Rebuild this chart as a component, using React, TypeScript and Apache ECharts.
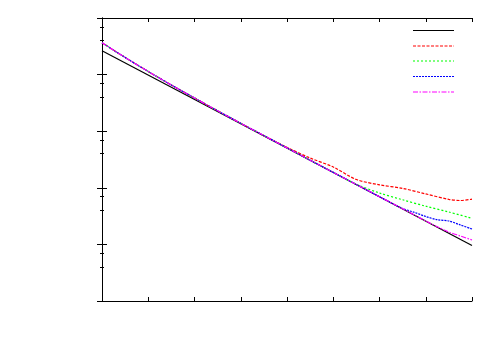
import React, { useEffect, useRef } from "react";
import * as echarts from "echarts";

// x positions (linear axis, 0..8) and y values (log axis, 1e-5..1)
const xBlack = [0, 8];
const yBlack = [0.2644, 9.564e-5];

const xRed = [0, 0.5, 1, 1.5, 2, 2.5, 3, 3.5, 4, 4.5, 5, 5.5, 6, 6.5, 7, 7.5, 7.75, 8];
const yRed = [0.3662, 0.2004, 0.1134, 0.06551, 0.0386, 0.02293, 0.01379, 0.008363, 5.194e-3, 3.361e-3, 2.331e-3, 1.401e-3, 1.13e-3, 9.759e-4, 7.803e-4, 6.24e-4, 5.966e-4, 6.29e-4];

const xGreen = [0, 0.5, 1, 1.5, 2, 2.5, 3, 3.5, 4, 4.5, 5, 5.5, 6, 6.5, 7, 7.5, 8];
const yGreen = [0.3662, 0.2004, 0.1134, 0.06551, 0.0386, 0.02293, 0.01379, 0.008363, 0.005069, 0.003073, 0.001871, 1.153e-3, 8.094e-4, 6.138e-4, 4.73e-4, 3.736e-4, 2.892e-4];

const xBlue = [0, 0.5, 1, 1.5, 2, 2.5, 3, 3.5, 4, 4.5, 5, 5.5, 6, 6.5, 6.75, 7, 7.25, 7.5, 7.75, 8];
const yBlue = [0.3662, 0.2004, 0.1134, 0.06551, 0.0386, 0.02293, 0.01379, 0.008363, 0.005069, 0.003073, 0.001871, 0.001144, 6.965e-4, 4.308e-4, 3.691e-4, 3.111e-4, 2.732e-4, 2.591e-4, 2.202e-4, 1.871e-4];

const xMagenta = [0, 0.5, 1, 1.5, 2, 2.5, 3, 3.5, 4, 4.5, 5, 5.5, 6, 6.5, 7, 7.25, 7.5, 7.75, 8];
const yMagenta = [0.3662, 0.2004, 0.1134, 0.06551, 0.0386, 0.02293, 0.01379, 0.008363, 0.005069, 0.003073, 0.001871, 0.001144, 6.965e-4, 4.256e-4, 2.591e-4, 2.047e-4, 1.656e-4, 1.407e-4, 1.196e-4];

const zip = (xs: number[], ys: number[]) => xs.map((x, i) => [x, ys[i]]);

const seriesDefs = [
  { xs: xBlack, ys: yBlack, color: "#000000", dash: "solid" as any, smooth: false },
  { xs: xRed, ys: yRed, color: "#ff0000", dash: [3, 1.5], smooth: 0.3 },
  { xs: xGreen, ys: yGreen, color: "#00ff00", dash: [2, 2], smooth: 0.3 },
  { xs: xBlue, ys: yBlue, color: "#0000ff", dash: [2, 1], smooth: 0.3 },
  { xs: xMagenta, ys: yMagenta, color: "#ff00ff", dash: [5, 1.5, 1.5, 1.5], smooth: 0.3 },
];

const legendYs = [30.5, 46, 61, 76.5, 92];

export default function App() {
  const ref = useRef<HTMLDivElement>(null);
  useEffect(() => {
    if (!ref.current) return;
    const chart = echarts.init(ref.current, undefined, { renderer: "svg" });
    const xAxisBase = {
      type: "value",
      min: 0,
      max: 8,
      interval: 1,
      axisLine: { show: true, lineStyle: { color: "#000", width: 1 } },
      axisTick: { show: true, inside: true, length: 4, lineStyle: { color: "#000" } },
      axisLabel: { show: false },
      splitLine: { show: false },
    };
    const yAxisBase = {
      type: "log",
      logBase: 10,
      min: 1e-5,
      max: 1,
      axisLine: { show: true, lineStyle: { color: "#000", width: 1 } },
      axisTick: { show: true, inside: true, length: 5, lineStyle: { color: "#000" } },
      minorTick: { show: true, splitNumber: 3, length: 2, lineStyle: { color: "#000" } },
      axisLabel: { show: false },
      splitLine: { show: false },
      minorSplitLine: { show: false },
    };
    chart.setOption({
      animation: false,
      backgroundColor: "#ffffff",
      grid: { left: 102, right: 28, top: 18, bottom: 49, containLabel: false },
      xAxis: [
        { ...xAxisBase, position: "bottom" },
        { ...xAxisBase, position: "top" },
      ],
      yAxis: [
        { ...yAxisBase, position: "left" },
        { ...yAxisBase, position: "right" },
      ],
      series: seriesDefs.map((s) => ({
        type: "line",
        xAxisIndex: 0,
        yAxisIndex: 0,
        data: zip(s.xs, s.ys),
        showSymbol: false,
        symbol: "none",
        smooth: s.smooth,
        lineStyle: { color: s.color, width: 1.2, type: s.dash },
      })),
      graphic: seriesDefs.map((s, i) => ({
        type: "line",
        shape: { x1: 413, y1: legendYs[i], x2: 454, y2: legendYs[i] },
        style: {
          stroke: s.color,
          lineWidth: 1.2,
          lineDash: Array.isArray(s.dash) ? s.dash : null,
        },
      })),
    });
    return () => chart.dispose();
  }, []);
  return (
    <div
      ref={ref}
      style={{ position: "fixed", left: 0, top: 0, width: 500, height: 350, background: "#fff" }}
    />
  );
}
